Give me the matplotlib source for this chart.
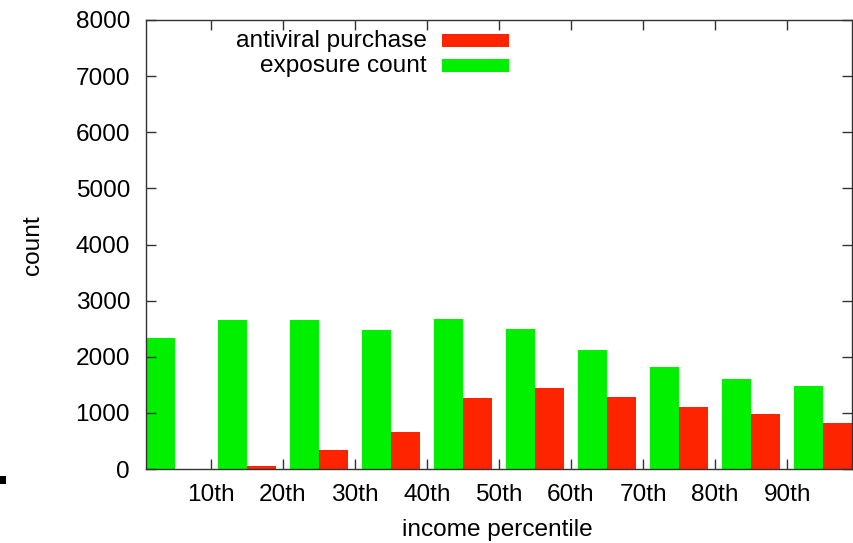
import numpy as np
import matplotlib.pyplot as plt
from matplotlib.patches import Rectangle

plt.rcParams['font.family'] = ['Liberation Sans', 'DejaVu Sans']

# income percentile groups (10 bins), labels sit between groups
tick_labels = ['10th', '20th', '30th', '40th', '50th', '60th', '70th', '80th', '90th']
exposure = [2330, 2660, 2655, 2476, 2667, 2494, 2126, 1823, 1598, 1479]
antiviral = [0, 55, 338, 665, 1259, 1437, 1277, 1105, 974, 825]

GREEN = '#00f000'
RED = '#ff2400'
W, H = 854, 543
FS = 17.6

fig = plt.figure(figsize=(W / 100, H / 100), dpi=100)
ax = fig.add_axes([146 / W, 1 - 469 / H, 706 / W, 449 / H])

x = np.arange(len(exposure))
bw = 0.4
ax.bar(x - bw / 2, exposure, width=bw, color=GREEN, linewidth=0)
ax.bar(x + bw / 2, antiviral, width=bw, color=RED, linewidth=0)

ax.set_xlim(-bw, len(exposure) - 1 + bw)
ax.set_ylim(0, 8000)
ax.set_yticks(range(0, 8001, 1000))
ax.set_xticks(x[:-1] + 0.5)
ax.set_xticklabels(tick_labels)

for s in ax.spines.values():
    s.set_linewidth(1.0)
    s.set_color('#333333')
ax.tick_params(direction='in', length=7, width=1, color='#333333',
               top=True, right=True, labelsize=FS)
ax.tick_params(axis='y', pad=11.5)
ax.tick_params(axis='x', pad=10.5)

fig.text(497 / W, 1 - 530 / H, 'income percentile', ha='center', va='center', fontsize=FS)
fig.text(33 / W, 1 - 245 / H, 'count', ha='center', va='center', rotation=90, fontsize=FS)

# key in the upper part of the plot area
def key(label, color, yc):
    fig.text(427 / W, 1 - yc / H, label, ha='right', va='center', fontsize=FS)
    fig.patches.append(Rectangle((442 / W, 1 - (yc + 6.5) / H), 67 / W, 13 / H,
                                 transform=fig.transFigure, color=color, lw=0))

key('antiviral purchase', RED, 41)
key('exposure count', GREEN, 66)

# stray mark at the left edge
fig.patches.append(Rectangle((0, 1 - 484 / H), 6 / W, 8 / H,
                             transform=fig.transFigure, color='black', lw=0))

fig.savefig('out.png', dpi=100)
